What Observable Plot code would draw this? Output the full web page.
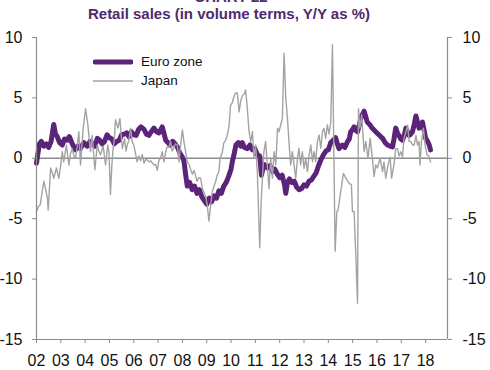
<!DOCTYPE html>
<html>
<head>
<meta charset="utf-8">
<script src="https://cdn.jsdelivr.net/npm/d3@7"></script>
<script src="https://cdn.jsdelivr.net/npm/@observablehq/plot@0.6"></script>
<style>
  body { margin: 0; background: #fff; font-family: "Liberation Sans", Arial, sans-serif; }
  #wrap { position: relative; width: 490px; height: 370px; overflow: hidden; }
  .sup { position: absolute; top: -11px; left: 0; width: 462px; text-align: center; font-weight: bold; font-size: 15px; line-height: 15px; color: #4e2a6e; }
  .title { position: absolute; top: 5px; left: 0; width: 458px; text-align: center; font-weight: bold; font-size: 15px; line-height: 17px; color: #4e2a6e; }
  #chart { position: absolute; top: 22px; left: 0; }
  .legend { position: absolute; left: 93px; top: 52px; font-size: 13.5px; color: #111; }
  .legend .row { display: flex; align-items: center; height: 19px; }
  .legend .sw { width: 40px; margin-right: 8px; }
</style>
</head>
<body>
<div id="wrap">
  <div class="sup">CHART 22</div>
  <div class="title">Retail sales (in volume terms, Y/Y as %)</div>
  <div id="chart"></div>
  <div class="legend">
    <div class="row"><svg class="sw" width="40" height="8"><line x1="2" y1="4" x2="38" y2="4" stroke="#5b2379" stroke-width="5" stroke-linecap="round"/></svg>Euro zone</div>
    <div class="row"><svg class="sw" width="40" height="8"><line x1="0" y1="4" x2="40" y2="4" stroke="#a3a3a3" stroke-width="1.4"/></svg>Japan</div>
  </div>
</div>
<script>
const seriesNames = ["Euro zone", "Japan"];
const xDomain = [2002, 2018.9];
const yDomain = [-15, 10];
const yTickValues = [-15, -10, -5, 0, 5, 10];
const yearTicks = [2002,2003,2004,2005,2006,2007,2008,2009,2010,2011,2012,2013,2014,2015,2016,2017,2018];
const yearTickLabels = ["02","03","04","05","06","07","08","09","10","11","12","13","14","15","16","17","18"];

const euroYears = [2002.00,2002.05,2002.12,2002.2,2002.3,2002.4,2002.5,2002.6,2002.71,2002.78,2002.85,2002.95,
2003.06,2003.15,2003.26,2003.35,2003.47,2003.6,2003.7,2003.8,2003.95,
2004.09,2004.2,2004.3,2004.4,2004.5,2004.6,2004.7,2004.8,2004.9,
2005.0,2005.1,2005.2,2005.3,2005.4,2005.5,2005.6,2005.7,2005.8,2005.9,
2006.0,2006.1,2006.2,2006.3,2006.42,2006.52,2006.62,2006.72,2006.83,2006.93,
2007.04,2007.17,2007.25,2007.31,2007.4,2007.5,2007.6,2007.7,2007.8,2007.9,
2008.0,2008.06,2008.13,2008.2,2008.3,2008.4,2008.5,2008.6,2008.7,2008.8,2008.9,
2009.0,2009.1,2009.2,2009.3,2009.4,2009.5,2009.6,2009.7,2009.8,2009.9,
2010.0,2010.05,2010.12,2010.2,2010.3,2010.4,2010.46,2010.55,2010.67,2010.78,2010.88,2010.98,
2011.08,2011.18,2011.25,2011.35,2011.5,2011.6,2011.7,2011.8,2011.9,
2012.0,2012.1,2012.2,2012.25,2012.32,2012.4,2012.5,2012.6,2012.7,2012.8,2012.9,
2013.0,2013.1,2013.2,2013.3,2013.4,2013.5,2013.6,2013.7,2013.8,2013.9,
2014.0,2014.1,2014.2,2014.3,2014.37,2014.44,2014.52,2014.58,2014.68,2014.79,2014.86,2014.92,
2015.0,2015.06,2015.13,2015.2,2015.27,2015.33,2015.4,2015.47,2015.53,2015.6,2015.7,2015.8,2015.9,
2016.0,2016.1,2016.23,2016.33,2016.43,2016.55,2016.64,2016.7,2016.77,2016.84,2016.9,2016.98,
2017.05,2017.12,2017.19,2017.25,2017.32,2017.39,2017.46,2017.53,2017.6,2017.67,2017.73,2017.8,2017.87,2017.94,
2018.0,2018.08,2018.15,2018.2];
const euroValues = [-0.4,0.3,1.2,1.4,1.0,1.2,0.9,1.4,2.8,2.0,1.8,1.3,
1.1,1.6,1.5,1.8,1.2,0.7,1.0,0.8,1.3,
1.0,1.4,1.2,1.0,1.65,1.5,1.2,1.4,1.95,
1.7,1.6,1.2,1.4,1.5,1.95,2.0,2.1,1.8,2.2,
1.95,1.9,2.4,2.6,2.4,2.0,1.9,2.2,2.5,2.2,
2.1,2.6,2.0,1.5,1.3,1.1,1.4,1.2,0.9,0.4,
0.1,-0.2,-1.3,-2.3,-2.0,-2.6,-2.3,-2.9,-2.6,-3.2,-3.5,
-3.8,-3.3,-3.6,-3.1,-3.3,-2.7,-2.9,-2.3,-2.0,-1.5,
-0.9,-0.3,0.3,1.1,1.3,1.0,1.3,0.9,0.8,1.1,0.7,0.8,
0.3,0.2,-1.4,-0.5,-0.8,-0.6,-1.1,-0.9,-1.3,
-1.6,-1.4,-2.2,-2.9,-2.0,-1.7,-2.0,-1.9,-2.4,-2.6,-2.5,
-2.2,-2.3,-1.9,-1.8,-1.5,-1.2,-0.6,-0.1,0.3,0.6,
0.7,1.3,1.5,1.7,1.2,0.8,1.0,1.1,0.9,1.4,1.6,2.2,
2.4,2.6,2.3,2.2,2.7,3.3,3.6,3.9,3.5,3.0,2.8,2.5,2.3,
2.1,1.9,1.65,1.3,1.1,1.0,0.95,1.6,2.5,2.1,1.9,1.6,
1.5,1.9,2.5,2.2,1.9,2.0,2.2,2.8,3.5,3.0,2.5,2.7,3.0,2.3,
1.65,1.4,1.1,0.7];

const japanYears = [2002.0,2002.08,2002.16,2002.23,2002.3,2002.37,2002.45,2002.48,2002.58,2002.65,2002.71,2002.82,2002.92,
2003.0,2003.06,2003.12,2003.23,2003.33,2003.4,2003.47,2003.54,2003.6,2003.67,2003.74,2003.81,2003.92,
2004.02,2004.11,2004.22,2004.29,2004.4,2004.5,2004.56,2004.63,2004.74,2004.84,2004.93,2004.98,
2005.04,2005.1,2005.15,2005.2,2005.25,2005.35,2005.43,2005.48,2005.53,2005.62,2005.68,2005.73,2005.8,2005.87,2005.93,
2006.0,2006.07,2006.14,2006.2,2006.28,2006.35,2006.42,2006.49,2006.56,2006.63,2006.7,2006.77,2006.83,2006.9,2006.97,
2007.03,2007.1,2007.17,2007.24,2007.31,2007.37,2007.44,2007.51,2007.58,2007.65,2007.72,2007.79,2007.86,2007.93,
2008.0,2008.06,2008.13,2008.2,2008.27,2008.34,2008.41,2008.48,2008.55,2008.6,2008.68,2008.75,2008.82,2008.9,2008.95,
2009.02,2009.09,2009.16,2009.23,2009.3,2009.37,2009.43,2009.5,2009.55,2009.64,2009.7,2009.78,2009.85,2009.92,
2009.98,2010.05,2010.12,2010.18,2010.26,2010.33,2010.4,2010.47,2010.54,2010.6,2010.67,2010.74,2010.81,2010.88,2010.94,
2011.01,2011.08,2011.18,2011.24,2011.29,2011.35,2011.42,2011.49,2011.56,2011.63,2011.7,2011.77,2011.84,2011.91,2011.97,
2012.04,2012.11,2012.18,2012.25,2012.32,2012.38,2012.45,2012.52,2012.59,2012.66,2012.73,2012.79,2012.86,2012.93,
2013.0,2013.07,2013.14,2013.21,2013.28,2013.35,2013.41,2013.48,2013.55,2013.62,2013.69,2013.76,2013.82,2013.89,2013.96,
2014.03,2014.1,2014.17,2014.23,2014.28,2014.35,2014.4,2014.51,2014.62,2014.72,2014.85,2014.95,2014.99,
2015.06,2015.13,2015.2,2015.24,2015.3,2015.37,2015.47,2015.54,2015.63,2015.72,2015.81,2015.88,2015.95,
2016.02,2016.13,2016.23,2016.29,2016.36,2016.46,2016.54,2016.6,2016.7,2016.77,2016.84,2016.91,2016.98,
2017.05,2017.11,2017.19,2017.26,2017.32,2017.39,2017.46,2017.53,2017.6,2017.67,2017.73,2017.77,2017.83,2017.91,2017.98,
2018.05,2018.12,2018.21];
const japanValues = [-4.4,-4.0,-3.8,-2.8,-1.9,-2.5,-3.3,-4.3,-0.8,-1.2,-1.65,-0.8,-1.65,
-0.5,0.55,-0.3,1.1,-0.55,0.4,0.8,0.2,0.0,0.9,2.2,-0.55,2.5,
4.1,2.8,0.55,1.9,-0.95,1.1,0.6,0.3,1.0,-0.55,1.1,0.5,
-3.0,-0.5,0.8,1.6,3.2,2.5,3.3,2.0,0.8,1.65,0.6,1.1,1.5,2.5,1.4,
1.1,0.4,-0.3,0.2,-0.2,0.3,-0.4,-0.1,-0.15,-0.3,-0.2,-0.4,-0.55,-0.5,-1.0,
-0.2,0.0,0.55,-0.3,0.5,0.95,0.9,1.4,0.6,0.9,1.2,1.1,-0.3,1.2,
2.35,1.4,0.55,-0.3,-0.5,-0.95,-1.3,-1.0,-1.5,-1.9,-1.6,-1.65,-2.5,-2.9,-3.1,
-3.85,-5.2,-3.9,-2.75,-2.3,-1.9,-1.4,-1.1,0.0,0.5,1.25,1.5,1.95,2.7,
4.4,4.6,5.1,5.4,5.4,3.85,4.8,5.2,5.3,5.65,4.1,2.2,1.38,2.2,0.0,
1.1,-1.1,-7.4,-3.5,-1.65,0.55,1.38,-0.55,-2.5,0.0,-1.65,0.55,-0.55,2.48,2.2,
2.76,3.3,8.7,5.0,3.3,1.38,-0.55,0.55,-0.55,-1.65,0.0,0.83,-0.55,0.55,
-0.83,0.0,-1.1,0.28,1.1,-0.28,0.55,-0.28,1.38,1.93,0.83,2.2,2.48,1.65,2.76,
2.0,3.03,9.4,0.0,-7.7,-4.4,-4.3,-2.75,-1.25,-1.65,-2.05,-2.2,-4.4,
-4.4,-8.0,-12.0,4.1,2.5,3.6,0.55,1.4,0.0,1.65,0.0,-1.5,-0.55,
-0.8,0.0,-1.1,-0.3,-1.65,-0.5,0.1,-1.65,-0.5,0.8,0.8,0.2,0.55,
0.1,1.65,2.2,2.75,1.4,1.4,1.1,1.1,1.9,1.1,1.4,-0.55,1.4,2.5,1.1,
0.3,0.2,-0.3];

const euro = euroYears.map((t, i) => ({series: seriesNames[0], year: t, value: euroValues[i]}));
const japan = japanYears.map((t, i) => ({series: seriesNames[1], year: t, value: japanValues[i]}));

const axisGray = "#8c8c8c";
const yearLabel = d => yearTickLabels[yearTicks.indexOf(d)];

const chart = Plot.plot({
  width: 490,
  height: 348,
  marginTop: 15,
  marginBottom: 31,
  marginLeft: 36,
  marginRight: 43,
  style: {fontFamily: "'Liberation Sans', Arial, sans-serif", fontSize: "16px", color: "#111", background: "transparent", overflow: "visible"},
  x: {domain: xDomain},
  y: {domain: yDomain},
  marks: [
    Plot.ruleY([0], {stroke: axisGray, strokeWidth: 1.5}),
    Plot.line(euro, {x: "year", y: "value", stroke: "#5b2379", strokeWidth: 5}),
    Plot.line(japan, {x: "year", y: "value", stroke: "#a3a3a3", strokeWidth: 1.4}),
    Plot.ruleX(xDomain, {stroke: axisGray, strokeWidth: 1.2}),
    Plot.ruleY([yDomain[0]], {stroke: axisGray, strokeWidth: 1.2}),
    Plot.axisY({anchor: "left", ticks: yTickValues, tickSize: 4, tickPadding: 10, tickFormat: d => String(d), label: null, stroke: axisGray, fill: "#111"}),
    Plot.axisY({anchor: "right", ticks: yTickValues, tickSize: 4, tickPadding: 11, tickFormat: d => String(d), label: null, stroke: axisGray, fill: "#111"}),
    Plot.axisX({ticks: yearTicks, tickSize: 4, tickPadding: 11, tickFormat: yearLabel, label: null, stroke: axisGray, fill: "#111"})
  ]
});
document.getElementById("chart").appendChild(chart);
</script>
</body>
</html>
